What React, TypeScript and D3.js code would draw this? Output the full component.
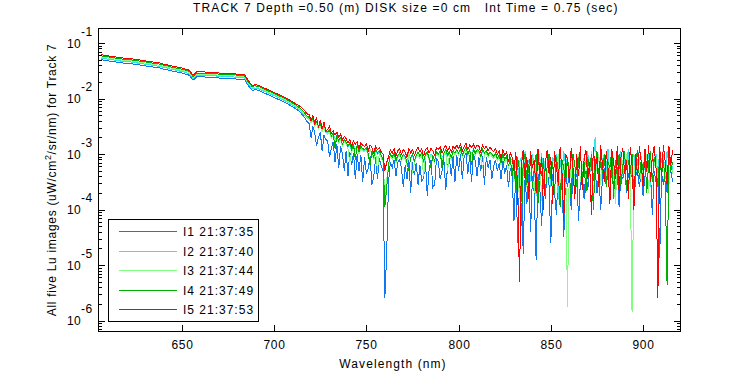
import React, { useEffect, useRef } from 'react';
import * as d3 from 'd3';

// sample grid (nm): 2 nm steps over the smooth part, 1 nm over the noisy part
const wavelengths = d3.range(606, 719, 2).concat(d3.range(719, 917));

const seriesNames = ['I1 21:37:35', 'I2 21:37:40', 'I3 21:37:44', 'I4 21:37:49', 'I5 21:37:53'];
const seriesColors = ['#0f78f0', '#30e4f0', '#80ff80', '#00b000', '#ff0000'];

// log10 of the radiance
const logI1 = [
  -1.30, -1.31, -1.32, -1.33, -1.34, -1.35, -1.36, -1.36, -1.37, -1.38,
  -1.39, -1.40, -1.41, -1.42, -1.43, -1.44, -1.45, -1.47, -1.48, -1.50,
  -1.51, -1.53, -1.54, -1.56, -1.58, -1.67, -1.61, -1.61, -1.61, -1.62,
  -1.62, -1.62, -1.63, -1.63, -1.63, -1.64, -1.64, -1.65, -1.65, -1.66,
  -1.77, -1.85, -1.84, -1.86, -1.89, -1.92, -1.95, -1.98, -2.01, -2.04,
  -2.07, -2.11, -2.15, -2.19, -2.24, -2.32, -2.42,
  -2.45, -2.70, -2.50, -2.62, -2.85, -2.70, -2.60, -2.95, -2.66, -2.74,
  -2.76, -3.05, -2.90, -2.78, -3.15, -2.82, -3.25, -2.86, -3.00, -3.30,
  -2.94, -3.40, -2.96, -3.20, -2.98, -3.45, -3.00, -3.30, -3.02, -3.50,
  -3.06, -3.35, -3.25, -3.04, -3.55, -3.40, -3.06, -3.45, -3.08, -3.20,
  -3.30, -5.60, -4.80, -3.50, -3.15, -3.25, -3.10, -3.40, -3.15, -3.10,
  -3.25, -3.60, -3.20, -3.45, -3.10, -3.70, -3.14, -3.38, -3.16, -3.55,
  -3.20, -3.50, -3.42, -3.12, -3.75, -3.28, -3.10, -3.60, -3.55, -3.08,
  -3.14, -3.45, -3.30, -3.10, -3.65, -3.22, -3.08, -3.40, -3.04, -3.50,
  -3.02, -3.30, -3.00, -3.45, -3.04, -2.98, -3.35, -3.02, -3.50, -3.00,
  -3.12, -3.40, -3.06, -3.30, -3.04, -3.55, -3.06, -3.25, -3.10, -3.45,
  -3.22, -3.10, -3.30, -3.16, -3.45, -3.12, -3.35, -3.20, -3.60, -3.25,
  -3.40, -4.20, -3.30, -4.60, -3.50, -3.35, -4.80, -3.45, -3.90, -3.30,
  -4.40, -3.40, -3.70, -4.90, -3.35, -3.60, -4.30, -3.40, -3.80, -3.30,
  -3.55, -4.60, -3.35, -3.70, -4.10, -3.30, -3.85, -3.45, -4.50, -3.35,
  -3.60, -3.30, -4.00, -3.40, -3.70, -3.25, -4.20, -3.50, -3.35, -3.80,
  -3.30, -3.65, -3.20, -3.90, -3.40, -3.25, -3.70, -3.30, -4.00, -3.40,
  -3.25, -3.55, -3.35, -3.80, -3.20, -3.60, -3.40, -3.30, -3.95, -3.35,
  -3.45, -3.20, -3.70, -3.35, -3.55, -3.25, -3.90, -3.40, -3.30, -3.60,
  -3.30, -3.75, -3.40, -3.25, -3.60, -3.35, -4.10, -3.30, -3.50, -3.40,
  -4.88, -3.35, -3.55, -3.25, -3.70, -3.40, -3.30, -3.50,
];

const logI2 = [
  -1.27, -1.28, -1.29, -1.30, -1.31, -1.32, -1.33, -1.33, -1.34, -1.35,
  -1.36, -1.37, -1.38, -1.39, -1.40, -1.41, -1.42, -1.44, -1.45, -1.47,
  -1.48, -1.50, -1.51, -1.53, -1.55, -1.64, -1.58, -1.58, -1.58, -1.59,
  -1.59, -1.59, -1.60, -1.60, -1.60, -1.61, -1.61, -1.62, -1.62, -1.63,
  -1.74, -1.82, -1.81, -1.83, -1.86, -1.89, -1.92, -1.95, -1.98, -2.01,
  -2.04, -2.08, -2.12, -2.16, -2.21, -2.28, -2.36,
  -2.36, -2.42, -2.38, -2.48, -2.44, -2.52, -2.46, -2.58, -2.50, -2.60,
  -2.62, -2.58, -2.70, -2.64, -2.74, -2.68, -2.78, -2.72, -2.84, -2.76,
  -2.80, -2.88, -2.82, -2.94, -2.84, -2.90, -2.86, -2.98, -2.88, -2.92,
  -2.94, -2.90, -3.02, -2.92, -2.96, -3.08, -2.94, -3.00, -2.96, -3.04,
  -3.12, -3.80, -3.50, -3.20, -3.02, -3.08, -3.00, -3.14, -3.04, -3.00,
  -3.10, -3.02, -3.06, -3.18, -3.00, -3.08, -3.02, -3.14, -3.04, -2.98,
  -3.06, -3.00, -3.16, -3.02, -2.98, -3.10, -3.00, -3.04, -3.14, -2.98,
  -3.02, -2.96, -3.08, -3.00, -2.94, -3.04, -2.98, -3.08, -2.96, -3.00,
  -2.94, -3.00, -2.92, -3.04, -2.96, -2.90, -3.02, -2.94, -2.98, -2.92,
  -3.00, -2.94, -2.96, -3.06, -2.94, -3.00, -2.96, -3.04, -2.98, -3.02,
  -3.06, -3.00, -3.10, -3.04, -3.18, -3.02, -3.12, -3.06, -3.24, -3.08,
  -3.10, -3.30, -3.00, -3.55, -3.15, -3.05, -3.40, -2.95, -3.25, -3.10,
  -3.50, -3.00, -3.20, -3.75, -3.05, -3.30, -2.98, -3.45, -3.10, -3.00,
  -3.25, -3.60, -3.05, -3.15, -3.00, -3.80, -3.10, -3.35, -2.95, -3.20,
  -3.05, -3.40, -3.10, -3.00, -3.65, -3.15, -3.25, -2.92, -3.50, -3.05,
  -3.20, -2.95, -3.40, -3.05, -3.10, -2.70, -3.25, -3.00, -3.55, -3.10,
  -3.00, -3.30, -2.90, -3.50, -3.15, -3.05, -3.70, -3.00, -3.20, -2.95,
  -3.40, -3.05, -3.25, -2.90, -3.60, -3.10, -3.00, -3.35, -3.15, -2.92,
  -3.05, -3.45, -3.10, -3.25, -2.95, -3.60, -3.05, -3.20, -3.00, -3.40,
  -2.90, -3.15, -3.00, -3.45, -2.95, -3.20, -3.05, -3.30,
];

const logI3 = [
  -1.25, -1.26, -1.27, -1.28, -1.29, -1.30, -1.31, -1.31, -1.32, -1.33,
  -1.34, -1.35, -1.36, -1.37, -1.38, -1.39, -1.40, -1.42, -1.43, -1.45,
  -1.46, -1.48, -1.49, -1.51, -1.53, -1.62, -1.56, -1.56, -1.56, -1.57,
  -1.57, -1.57, -1.58, -1.58, -1.58, -1.59, -1.59, -1.60, -1.60, -1.61,
  -1.72, -1.80, -1.79, -1.81, -1.84, -1.87, -1.90, -1.93, -1.96, -1.99,
  -2.02, -2.06, -2.10, -2.14, -2.19, -2.26, -2.34,
  -2.38, -2.44, -2.40, -2.50, -2.46, -2.54, -2.48, -2.60, -2.52, -2.62,
  -2.64, -2.60, -2.72, -2.66, -2.76, -2.70, -2.80, -2.74, -2.86, -2.78,
  -2.82, -2.90, -3.15, -2.96, -2.86, -2.92, -2.88, -3.00, -2.90, -2.94,
  -2.96, -2.92, -3.04, -2.94, -2.98, -3.10, -2.96, -3.30, -2.98, -3.06,
  -3.14, -3.70, -3.45, -3.22, -3.04, -3.10, -3.02, -3.16, -3.06, -3.02,
  -3.12, -3.04, -3.08, -3.20, -3.02, -3.10, -3.35, -3.16, -3.06, -3.00,
  -3.08, -3.02, -3.40, -3.04, -3.00, -3.12, -3.02, -3.06, -3.16, -3.00,
  -3.04, -2.98, -3.10, -3.02, -2.96, -3.30, -3.00, -3.10, -2.98, -3.02,
  -2.96, -3.02, -2.94, -3.06, -2.98, -2.92, -3.04, -2.96, -3.00, -2.94,
  -3.02, -2.96, -2.98, -3.08, -3.25, -3.02, -2.98, -3.06, -3.00, -3.04,
  -3.08, -3.02, -3.12, -3.06, -3.20, -3.04, -3.14, -3.08, -3.26, -3.10,
  -3.15, -3.50, -3.05, -3.35, -3.80, -3.10, -3.25, -3.00, -3.60, -3.20,
  -3.40, -3.05, -3.70, -3.15, -3.30, -3.00, -3.85, -3.20, -3.10, -3.50,
  -3.05, -3.30, -3.60, -3.10, -3.25, -3.00, -3.75, -3.15, -3.40, -3.05,
  -5.75, -3.20, -3.45, -3.05, -3.70, -3.15, -3.00, -3.50, -3.25, -3.10,
  -3.60, -3.05, -3.35, -2.95, -3.80, -3.15, -3.30, -3.00, -3.55, -3.20,
  -3.05, -3.40, -3.15, -3.65, -3.00, -3.30, -3.90, -3.10, -3.25, -3.50,
  -3.10, -3.35, -3.00, -3.60, -3.20, -5.85, -3.40, -3.10, -3.30, -3.05,
  -3.50, -3.15, -3.25, -3.00, -3.70, -3.10, -3.45, -3.20, -3.05, -3.60,
  -3.15, -3.30, -3.05, -3.40, -3.20, -3.55, -3.10, -3.35,
];

const logI4 = [
  -1.23, -1.24, -1.25, -1.26, -1.27, -1.28, -1.29, -1.29, -1.30, -1.31,
  -1.32, -1.33, -1.34, -1.35, -1.36, -1.37, -1.38, -1.40, -1.41, -1.43,
  -1.44, -1.46, -1.47, -1.49, -1.51, -1.60, -1.54, -1.54, -1.54, -1.55,
  -1.55, -1.55, -1.56, -1.56, -1.56, -1.57, -1.57, -1.58, -1.58, -1.59,
  -1.70, -1.78, -1.77, -1.79, -1.82, -1.85, -1.88, -1.91, -1.94, -1.97,
  -2.00, -2.04, -2.08, -2.12, -2.17, -2.24, -2.32,
  -2.34, -2.40, -2.36, -2.46, -2.42, -2.50, -2.45, -2.55, -2.48, -2.58,
  -2.60, -2.56, -2.68, -2.62, -2.90, -2.66, -2.76, -2.70, -2.82, -2.74,
  -2.78, -2.86, -2.80, -2.92, -2.82, -3.10, -2.84, -2.96, -2.86, -2.90,
  -2.92, -2.88, -3.00, -3.20, -2.94, -3.06, -2.92, -2.98, -2.94, -3.02,
  -3.10, -3.95, -3.60, -3.20, -3.00, -3.06, -2.98, -3.12, -3.02, -2.98,
  -3.08, -3.00, -3.04, -3.16, -3.30, -3.06, -3.00, -3.12, -3.02, -2.96,
  -3.04, -2.98, -3.14, -3.00, -2.96, -3.08, -3.25, -3.02, -3.12, -2.96,
  -3.00, -2.94, -3.25, -2.98, -2.92, -3.02, -2.96, -3.06, -2.94, -2.98,
  -2.92, -2.98, -2.90, -3.02, -2.94, -2.88, -3.00, -2.92, -3.20, -2.90,
  -2.98, -2.92, -2.94, -3.04, -2.92, -2.98, -2.94, -3.02, -2.96, -3.00,
  -3.04, -2.98, -3.08, -3.02, -3.16, -3.00, -3.10, -3.04, -3.22, -3.06,
  -3.40, -3.10, -3.70, -3.05, -3.30, -4.30, -3.15, -3.00, -3.55, -3.20,
  -3.05, -3.60, -3.25, -3.00, -3.90, -3.15, -3.40, -3.08, -3.75, -3.20,
  -3.00, -3.45, -3.15, -3.70, -3.05, -3.30, -3.95, -3.10, -3.25, -3.50,
  -3.05, -3.35, -3.80, -3.00, -3.20, -3.60, -3.10, -2.95, -3.45, -3.15,
  -3.70, -3.05, -3.30, -3.00, -4.00, -3.20, -2.95, -3.50, -3.10, -3.35,
  -3.00, -3.60, -3.15, -3.25, -2.92, -3.80, -3.10, -3.40, -3.00, -3.55,
  -3.20, -2.95, -3.65, -3.10, -3.35, -3.00, -3.85, -3.15, -2.92, -3.45,
  -3.10, -3.30, -3.00, -3.70, -3.15, -2.95, -3.50, -3.05, -3.25, -3.60,
  -3.00, -3.40, -3.10, -3.55, -5.35, -3.05, -3.30, -3.15,
];

const logI5 = [
  -1.21, -1.22, -1.23, -1.24, -1.25, -1.26, -1.27, -1.27, -1.28, -1.29,
  -1.30, -1.31, -1.32, -1.33, -1.34, -1.35, -1.36, -1.38, -1.39, -1.41,
  -1.42, -1.44, -1.45, -1.47, -1.49, -1.58, -1.52, -1.52, -1.52, -1.53,
  -1.53, -1.53, -1.54, -1.54, -1.54, -1.55, -1.55, -1.56, -1.56, -1.57,
  -1.68, -1.76, -1.75, -1.77, -1.80, -1.83, -1.86, -1.89, -1.92, -1.95,
  -1.98, -2.02, -2.06, -2.10, -2.14, -2.20, -2.28,
  -2.28, -2.40, -2.30, -2.45, -2.34, -2.52, -2.38, -2.55, -2.42, -2.58,
  -2.56, -2.50, -2.62, -2.58, -2.66, -2.60, -2.70, -2.64, -2.74, -2.68,
  -2.72, -2.80, -2.74, -2.86, -2.76, -2.82, -2.78, -2.90, -2.80, -2.84,
  -2.86, -2.82, -2.94, -2.84, -2.88, -2.98, -2.86, -2.92, -2.88, -2.96,
  -3.00, -3.30, -3.15, -3.05, -2.92, -2.98, -2.90, -3.04, -2.94, -2.90,
  -3.00, -2.92, -2.96, -3.06, -2.90, -2.98, -2.92, -3.02, -2.94, -2.88,
  -2.96, -2.90, -3.04, -2.92, -2.88, -2.98, -2.90, -2.94, -3.02, -2.88,
  -2.92, -2.86, -2.98, -2.90, -2.84, -2.94, -2.88, -2.96, -2.86, -2.90,
  -2.84, -2.90, -2.82, -2.94, -2.86, -2.80, -2.92, -2.84, -2.88, -2.82,
  -2.90, -2.84, -2.86, -2.96, -2.84, -2.90, -2.86, -2.94, -2.88, -2.92,
  -2.96, -2.90, -3.00, -2.94, -3.08, -2.92, -3.02, -2.96, -3.14, -2.98,
  -3.05, -3.30, -2.96, -3.60, -5.30, -3.20, -2.92, -3.45, -3.05, -3.80,
  -2.95, -3.25, -3.10, -3.70, -2.90, -3.40, -3.05, -4.00, -3.15, -2.92,
  -3.35, -3.05, -3.90, -2.95, -3.20, -3.55, -2.88, -3.30, -4.20, -3.00,
  -3.10, -3.50, -2.90, -3.25, -3.80, -3.00, -3.40, -2.86, -3.65, -3.10,
  -2.92, -3.45, -3.15, -4.10, -2.88, -3.30, -3.05, -3.60, -2.84, -3.20,
  -3.50, -2.95, -3.25, -3.90, -2.90, -3.15, -3.45, -2.86, -3.70, -3.05,
  -2.90, -3.35, -3.10, -3.80, -2.88, -3.20, -4.00, -3.00, -3.40, -2.86,
  -3.15, -3.60, -2.90, -3.30, -2.84, -3.50, -3.05, -2.86, -3.25, -5.60,
  -2.88, -3.40, -2.84, -3.15, -3.55, -2.86, -3.20, -2.92,
];

const xTicks = [650, 700, 750, 800, 850, 900];
const yExponents = [-1, -2, -3, -4, -5, -6];

const FONT = '"Liberation Sans", Arial, Helvetica, sans-serif';

function App() {
  const ref = useRef<SVGSVGElement>(null);

  useEffect(() => {
    const svg = d3.select(ref.current);
    svg.selectAll('*').remove();

    const left = 98, right = 680, top = 28, bottom = 331;

    const x = d3.scaleLinear().domain([604.5, 920]).range([left, right]);
    const y = d3.scaleLog().domain([Math.pow(10, -6.186), Math.pow(10, -0.729)]).range([bottom, top]);

    svg.append('rect').attr('width', 750).attr('height', 375).attr('fill', '#fff');

    svg.append('defs').append('clipPath').attr('id', 'plot-clip')
      .append('rect').attr('x', left).attr('y', top).attr('width', right - left).attr('height', bottom - top);

    const line = d3.line<number>()
      .x((d, i) => x(wavelengths[i]))
      .y((d) => y(Math.pow(10, d)));

    const plot = svg.append('g').attr('clip-path', 'url(#plot-clip)');
    [logI1, logI2, logI3, logI4, logI5].forEach((s, k) => {
      plot.append('path')
        .attr('d', line(s))
        .attr('fill', 'none')
        .attr('stroke', seriesColors[k])
        .attr('stroke-width', 1)
        .attr('shape-rendering', 'crispEdges');
    });

    // box
    svg.append('rect')
      .attr('x', left + 0.5).attr('y', top + 0.5)
      .attr('width', right - left).attr('height', bottom - top)
      .attr('fill', 'none').attr('stroke', '#000').attr('stroke-width', 1);

    const ticks = svg.append('g').attr('stroke', '#000').attr('stroke-width', 1).attr('shape-rendering', 'crispEdges');

    // x ticks, bottom and top, pointing inwards
    xTicks.forEach((t) => {
      const px = Math.round(x(t)) + 0.5;
      ticks.append('line').attr('x1', px).attr('x2', px).attr('y1', bottom).attr('y2', bottom - 6);
      ticks.append('line').attr('x1', px).attr('x2', px).attr('y1', top + 1).attr('y2', top + 7);
      svg.append('text')
        .attr('x', px).attr('y', 349)
        .attr('text-anchor', 'middle')
        .attr('font-family', FONT).attr('font-size', 12).attr('letter-spacing', 0.6)
        .text(String(t));
    });

    // y ticks: decades and minor ticks
    const [lo, hi] = y.domain();
    for (let e = -7; e <= -1; e++) {
      for (let m = 1; m <= 9; m++) {
        const v = m * Math.pow(10, e);
        if (v < lo || v > hi) continue;
        const py = Math.round(y(v)) + 0.5;
        const len = m === 1 ? 6 : 3;
        ticks.append('line').attr('x1', left + 1).attr('x2', left + 1 + len).attr('y1', py).attr('y2', py);
        ticks.append('line').attr('x1', right).attr('x2', right - len).attr('y1', py).attr('y2', py);
      }
    }

    yExponents.forEach((e) => {
      const py = y(Math.pow(10, e));
      svg.append('text')
        .attr('x', 81).attr('y', py + 4.5)
        .attr('text-anchor', 'end')
        .attr('font-family', FONT).attr('font-size', 12).attr('letter-spacing', 0.3)
        .text('10');
      svg.append('text')
        .attr('x', 81).attr('y', py - 7.5)
        .attr('font-family', FONT).attr('font-size', 12).attr('letter-spacing', 0.6)
        .text(String(e));
    });

    // title and axis labels
    svg.append('text')
      .attr('x', 193).attr('y', 12)
      .attr('font-family', FONT).attr('font-size', 12).attr('letter-spacing', 1.15)
      .text('TRACK 7 Depth =0.50 (m) DISK size =0 cm\u00a0\u00a0\u00a0Int Time = 0.75 (sec)');

    svg.append('text')
      .attr('x', 393).attr('y', 368)
      .attr('text-anchor', 'middle')
      .attr('font-family', FONT).attr('font-size', 12).attr('letter-spacing', 1.1)
      .text('Wavelength (nm)');

    const yl = svg.append('text')
      .attr('transform', 'translate(56,180) rotate(-90)')
      .attr('text-anchor', 'middle')
      .attr('font-family', FONT).attr('font-size', 12).attr('letter-spacing', 0.7);
    yl.append('tspan').text('All five Lu images (uW/cm');
    yl.append('tspan').attr('dy', -5).attr('font-size', 9).text('2');
    yl.append('tspan').attr('dy', 5).text('/sr/nm) for Track 7');

    // legend
    const lg = svg.append('g');
    lg.append('rect')
      .attr('x', 108.5).attr('y', 219.5).attr('width', 150).attr('height', 102)
      .attr('fill', '#fff').attr('stroke', '#000').attr('stroke-width', 1);
    seriesNames.forEach((name, i) => {
      const ly = Math.round(231 + i * 19.5) + 0.5;
      lg.append('line')
        .attr('x1', 119).attr('x2', 177).attr('y1', ly).attr('y2', ly)
        .attr('stroke', seriesColors[i]).attr('stroke-width', 1).attr('shape-rendering', 'crispEdges');
      lg.append('text')
        .attr('x', 183).attr('y', ly + 4.5)
        .attr('font-family', FONT).attr('font-size', 12).attr('letter-spacing', 1)
        .text(name);
    });
  }, []);

  return (
    <svg ref={ref} width={750} height={375} style={{ position: 'absolute', left: 0, top: 0 }}></svg>
  );
}

export default App;
